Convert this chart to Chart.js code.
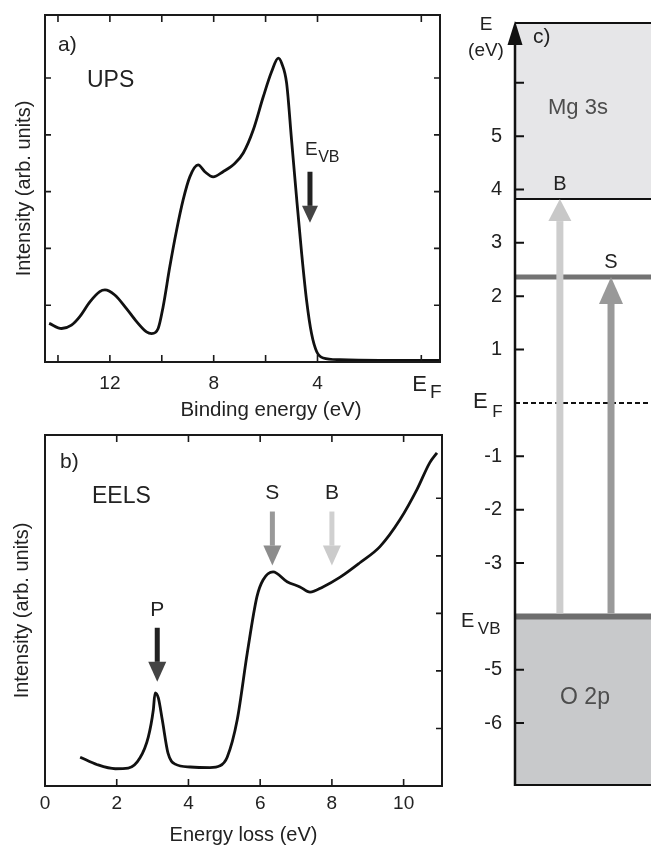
<!DOCTYPE html>
<html lang="en">
<head>
<meta charset="UTF-8">
<title>UPS / EELS / levels</title>
<script src="https://cdn.jsdelivr.net/npm/chart.js"></script>
<style>
  body { margin: 0; background: #fff; }
  #fig { position: relative; width: 651px; height: 847px; overflow: hidden; background: #fff; }
  canvas { position: absolute; }
</style>
</head>
<body>
<div id="fig">
  <canvas id="upsChart" width="460" height="420" style="left:0;top:0"></canvas>
  <canvas id="eelsChart" width="460" height="427" style="left:0;top:420px"></canvas>
  <canvas id="levelChart" width="191" height="847" style="left:460px;top:0"></canvas>
</div>

<script>
// ---- panel a) UPS ----
const upsEnergy = [14.34, 13.86, 13.48, 13.16, 12.77, 12.39, 12.19, 11.81, 11.36, 10.97, 10.59, 10.39, 10.14, 9.95,
  9.69, 9.43, 9.18, 8.92, 8.60, 8.34, 8.02, 7.64, 7.18, 6.86, 6.48, 6.09, 5.77, 5.51, 5.38, 5.19, 5.00, 4.81,
  4.61, 4.42, 4.23, 4.03, 3.78, 3.14, 1.60, -0.45, -0.72];
const upsIntensity = [0.68, 0.59, 0.65, 0.80, 1.06, 1.24, 1.27, 1.18, 0.94, 0.71, 0.53, 0.50, 0.59, 0.97,
  1.68, 2.32, 2.85, 3.26, 3.47, 3.35, 3.26, 3.35, 3.50, 3.68, 4.08, 4.67, 5.11, 5.35, 5.26, 4.91, 3.91, 2.91,
  1.91, 1.08, 0.50, 0.18, 0.07, 0.04, 0.03, 0.03, 0.03];
const upsTicks = [14, 12, 10, 8, 6, 4, 0];
const upsTickLabels = ['', '12', '', '8', '', '4', ''];
const upsYTicks = [1, 2, 3, 4, 5];
const upsEvb = { energy: 4.29, top: 3.35, tip: 2.45 };

// ---- panel b) EELS ----
const eelsEnergy = [0.98, 1.46, 1.96, 2.32, 2.65, 2.88, 3.02, 3.07, 3.16, 3.27, 3.43, 3.63, 4.05, 4.60, 4.88,
  5.08, 5.36, 5.64, 5.91, 6.08, 6.36, 6.75, 7.11, 7.39, 7.75, 8.23, 8.78, 9.34, 9.90, 10.37, 10.73, 10.93];
const eelsIntensity = [0.50, 0.37, 0.30, 0.31, 0.49, 0.85, 1.32, 1.62, 1.53, 1.15, 0.57, 0.38, 0.33, 0.32, 0.35,
  0.50, 1.15, 2.31, 3.29, 3.58, 3.72, 3.55, 3.46, 3.37, 3.46, 3.63, 3.88, 4.16, 4.63, 5.15, 5.62, 5.79];
const eelsTicks = [0, 2, 4, 6, 8, 10];
const eelsTickLabels = ['0', '2', '4', '6', '8', '10'];
const eelsYTicks = [1, 2, 3, 4, 5];
const eelsMarkNames = ['P', 'S', 'B'];
const eelsMarkEnergy = [3.13, 6.34, 8.0];
const eelsMarkTop = [2.75, 4.77, 4.77];
const eelsMarkTip = [1.81, 3.83, 3.83];

// ---- panel c) level scheme ----
const levelTicks = [6, 5, 4, 3, 2, 1, 0, -1, -2, -3, -4, -5, -6];
const levelTickLabels = ['', '5', '4', '3', '2', '1', '', '-1', '-2', '-3', '', '-5', '-6'];
const mg3sEdge = 3.82;
const surfaceLevel = 2.36;
const fermiLevel = 0;
const vbLevel = -4;
const transitionNames = ['B', 'S'];
const transitionTo = [mg3sEdge, surfaceLevel];

const FONT = "'Liberation Sans', Arial, sans-serif";
Chart.defaults.font.family = FONT;
Chart.defaults.color = '#222';

const markStyle = {
  P: { shaft: '#222', head: '#444' },
  S: { shaft: '#999', head: '#8c8c8c' },
  B: { shaft: '#d0d0d0', head: '#cbcbcb' }
};
const transitionStyle = {
  B: { x: 0.33, shaft: '#cdcdcd', head: '#c8c8c8', headW: 23, headL: 22 },
  S: { x: 0.706, shaft: '#9a9a9a', head: '#999', headW: 24, headL: 27 }
};

function toPoints(xs, ys) {
  return xs.map(function (x, i) { return { x: x, y: ys[i] }; });
}

function arrow(ctx, x, yFrom, yTo, shaftW, headW, headL, shaftCol, headCol) {
  var dir = yTo > yFrom ? 1 : -1;
  var yBase = yTo - dir * headL;
  ctx.fillStyle = shaftCol;
  ctx.fillRect(x - shaftW / 2, Math.min(yFrom, yBase), shaftW, Math.abs(yBase - yFrom));
  ctx.fillStyle = headCol;
  ctx.beginPath();
  ctx.moveTo(x - headW / 2, yBase);
  ctx.lineTo(x + headW / 2, yBase);
  ctx.lineTo(x, yTo);
  ctx.closePath();
  ctx.fill();
}

function text(ctx, s, x, y, size, align, color) {
  ctx.font = size + 'px ' + FONT;
  ctx.textAlign = align || 'center';
  ctx.textBaseline = 'middle';
  ctx.fillStyle = color || '#222';
  ctx.fillText(s, x, y);
}

// big letter with a subscript, x is the left edge
function subText(ctx, main, sub, x, y, size, subSize, gap, dy) {
  text(ctx, main, x, y, size, 'left');
  ctx.font = size + 'px ' + FONT;
  var w = ctx.measureText(main).width;
  text(ctx, sub, x + w + gap, y + dy, subSize, 'left');
}

function frame(chart, xTicks, yTicks, yLeft, yRight) {
  var ctx = chart.ctx, a = chart.chartArea, xs = chart.scales.x, ys = chart.scales.y;
  ctx.save();
  ctx.strokeStyle = '#1a1a1a';
  ctx.lineWidth = 2;
  ctx.strokeRect(a.left, a.top, a.right - a.left, a.bottom - a.top);
  ctx.lineWidth = 1.6;
  ctx.beginPath();
  xTicks.forEach(function (v) {
    var px = xs.getPixelForValue(v);
    ctx.moveTo(px, a.bottom); ctx.lineTo(px, a.bottom - 7);
    ctx.moveTo(px, a.top); ctx.lineTo(px, a.top + 7);
  });
  yTicks.forEach(function (v) {
    var py = ys.getPixelForValue(v);
    if (yLeft) { ctx.moveTo(a.left, py); ctx.lineTo(a.left + 6, py); }
    if (yRight) { ctx.moveTo(a.right, py); ctx.lineTo(a.right - 6, py); }
  });
  ctx.stroke();
  ctx.restore();
}

function spectrumOptions(xMin, xMax, reverse, ticks, labels, tickPad, titleText, titlePad, axisH, yTitlePad, yMax) {
  return {
    responsive: false,
    animation: false,
    layout: { padding: { top: 15, right: reverse ? 20 : 18, left: 0, bottom: 0 } },
    plugins: { legend: { display: false }, tooltip: { enabled: false } },
    scales: {
      x: {
        type: 'linear', reverse: reverse, min: xMin, max: xMax,
        grid: { display: false, drawTicks: false }, border: { display: false },
        afterBuildTicks: function (s) { s.ticks = ticks.map(function (v) { return { value: v }; }); },
        ticks: {
          autoSkip: false, maxRotation: 0, padding: tickPad, color: '#222',
          font: { size: 19, lineHeight: 1 },
          callback: function (v) { var i = ticks.indexOf(v); return i < 0 ? '' : labels[i]; }
        },
        title: { display: titleText !== '', text: titleText, color: '#222', font: { size: 20, lineHeight: 1 }, padding: { top: 0, bottom: titlePad } },
        afterFit: function (s) { s.height = axisH; }
      },
      y: {
        min: 0, max: yMax,
        grid: { display: false, drawTicks: false }, border: { display: false },
        ticks: { display: false },
        title: { display: true, text: 'Intensity (arb. units)', color: '#222', font: { size: 20, lineHeight: 1 }, padding: { top: yTitlePad, bottom: 0 } },
        afterFit: function (s) { s.width = 45; }
      }
    }
  };
}

// a) UPS (its axis title sits right of centre, so it is drawn by the plugin)
var upsOpts = spectrumOptions(-0.72, 14.5, true, upsTicks, upsTickLabels, 12.5, '', 0, 58, 14, 6.11);
new Chart(document.getElementById('upsChart'), {
  type: 'scatter',
  data: {
    datasets: [{
      data: toPoints(upsEnergy, upsIntensity),
      showLine: true, borderColor: '#111', borderWidth: 2.8,
      pointRadius: 0, tension: 0.4, cubicInterpolationMode: 'monotone'
    }]
  },
  options: upsOpts,
  plugins: [{
    id: 'upsDeco',
    afterDraw: function (chart) {
      var ctx = chart.ctx, xs = chart.scales.x, ys = chart.scales.y, a = chart.chartArea;
      frame(chart, upsTicks, upsYTicks, true, true);
      ctx.save();
      var ax = xs.getPixelForValue(upsEvb.energy);
      arrow(ctx, ax, ys.getPixelForValue(upsEvb.top), ys.getPixelForValue(upsEvb.tip), 5, 16, 17, '#222', '#444');
      subText(ctx, 'E', 'VB', ax - 5, ys.getPixelForValue(upsEvb.top) - 22, 19, 16, 0.5, 8);
      text(ctx, 'a)', a.left + 13, 45, 21, 'left');
      text(ctx, 'UPS', a.left + 42, 81, 23, 'left');
      subText(ctx, 'E', 'F', xs.getPixelForValue(0) - 9, 385, 22, 19, 3, 8);
      text(ctx, 'Binding energy (eV)', 271, 410, 20.5, 'center');
      ctx.restore();
    }
  }]
});

// b) EELS
var eelsOpts = spectrumOptions(0, 11.07, false, eelsTicks, eelsTickLabels, 8, 'Energy loss (eV)', 2, 61, 12.5, 6.10);
new Chart(document.getElementById('eelsChart'), {
  type: 'scatter',
  data: {
    datasets: [{
      data: toPoints(eelsEnergy, eelsIntensity),
      showLine: true, borderColor: '#111', borderWidth: 2.8,
      pointRadius: 0, tension: 0.4, cubicInterpolationMode: 'monotone'
    }]
  },
  options: eelsOpts,
  plugins: [{
    id: 'eelsDeco',
    afterDraw: function (chart) {
      var ctx = chart.ctx, xs = chart.scales.x, ys = chart.scales.y, a = chart.chartArea;
      frame(chart, eelsTicks, eelsYTicks, false, true);
      ctx.save();
      eelsMarkNames.forEach(function (n, i) {
        var st = markStyle[n];
        var px = xs.getPixelForValue(eelsMarkEnergy[i]);
        var top = ys.getPixelForValue(eelsMarkTop[i]);
        arrow(ctx, px, top, ys.getPixelForValue(eelsMarkTip[i]), 5, 18, 20, st.shaft, st.head);
        text(ctx, n, px, top - 18, 21, 'center', '#222');
      });
      text(ctx, 'b)', a.left + 15, 42, 21, 'left');
      text(ctx, 'EELS', a.left + 47, 77, 23, 'left');
      ctx.restore();
    }
  }]
});

// c) level scheme
new Chart(document.getElementById('levelChart'), {
  type: 'scatter',
  data: {
    datasets: [
      { data: toPoints([0, 1], [mg3sEdge, mg3sEdge]), showLine: true, fill: 'end',
        backgroundColor: '#e6e6e8', borderColor: '#111', borderWidth: 2, pointRadius: 0 },
      { data: toPoints([0, 1], [vbLevel, vbLevel]), showLine: true, fill: 'start',
        backgroundColor: '#c8c9cb', borderColor: '#6e6e6e', borderWidth: 6, pointRadius: 0 },
      { data: toPoints([0, 1], [fermiLevel, fermiLevel]), showLine: true, fill: false,
        borderColor: '#111', borderWidth: 2, borderDash: [5, 3], pointRadius: 0 },
      { data: toPoints([0, 1], [surfaceLevel, surfaceLevel]), showLine: true, fill: false,
        borderColor: '#737373', borderWidth: 5, pointRadius: 0 }
    ]
  },
  options: {
    responsive: false,
    animation: false,
    layout: { padding: { top: 15, right: 0, left: 0, bottom: 62 } },
    plugins: { legend: { display: false }, tooltip: { enabled: false } },
    scales: {
      x: { type: 'linear', min: 0, max: 1, display: false },
      y: {
        min: -7.16, max: 7.12,
        grid: { display: false, drawTicks: false }, border: { display: false },
        afterBuildTicks: function (s) { s.ticks = levelTicks.map(function (v) { return { value: v }; }); },
        ticks: {
          autoSkip: false, padding: 13, color: '#222', font: { size: 20, lineHeight: 1 },
          callback: function (v) { var i = levelTicks.indexOf(v); return i < 0 ? '' : levelTickLabels[i]; }
        },
        afterFit: function (s) { s.width = 55; }
      }
    }
  },
  plugins: [{
    id: 'levelDeco',
    afterDraw: function (chart) {
      var ctx = chart.ctx, xs = chart.scales.x, ys = chart.scales.y, a = chart.chartArea;
      ctx.save();
      // transitions
      transitionNames.forEach(function (n, i) {
        var st = transitionStyle[n];
        var px = xs.getPixelForValue(st.x);
        var tip = ys.getPixelForValue(transitionTo[i]);
        arrow(ctx, px, ys.getPixelForValue(vbLevel) - 3, tip, 7, st.headW, st.headL, st.shaft, st.head);
        text(ctx, n, px, tip - 15, 20, 'center', '#222');
      });
      // frame lines and axis
      ctx.strokeStyle = '#111';
      ctx.lineWidth = 2;
      ctx.beginPath();
      ctx.moveTo(a.left, a.top); ctx.lineTo(a.right, a.top);
      ctx.moveTo(a.left, a.bottom); ctx.lineTo(a.right, a.bottom);
      ctx.stroke();
      ctx.lineWidth = 2.5;
      ctx.beginPath();
      ctx.moveTo(a.left, a.bottom + 1); ctx.lineTo(a.left, a.top + 10);
      ctx.stroke();
      ctx.fillStyle = '#111';
      ctx.beginPath();
      ctx.moveTo(a.left - 7.5, a.top + 22); ctx.lineTo(a.left, a.top - 2); ctx.lineTo(a.left + 7.5, a.top + 22);
      ctx.closePath();
      ctx.fill();
      ctx.lineWidth = 2;
      ctx.beginPath();
      levelTicks.forEach(function (v) {
        if (v === fermiLevel || v === vbLevel) return;
        var py = ys.getPixelForValue(v);
        ctx.moveTo(a.left, py); ctx.lineTo(a.left + 9, py);
      });
      ctx.stroke();
      // labels
      text(ctx, 'E', 26, 25, 19, 'center');
      text(ctx, '(eV)', 26, 51, 19, 'center');
      text(ctx, 'c)', a.left + 18, 37, 21, 'left');
      text(ctx, 'Mg 3s', 118, 108, 22, 'center', '#4d4d4d');
      text(ctx, 'O 2p', 125, 698, 23, 'center', '#4d4d4d');
      subText(ctx, 'E', 'F', 13, ys.getPixelForValue(fermiLevel) - 1, 22, 17, 4.5, 10);
      subText(ctx, 'E', 'VB', 1, ys.getPixelForValue(vbLevel) + 5, 20, 17, 3.5, 8);
      ctx.restore();
    }
  }]
});
</script>
</body>
</html>
